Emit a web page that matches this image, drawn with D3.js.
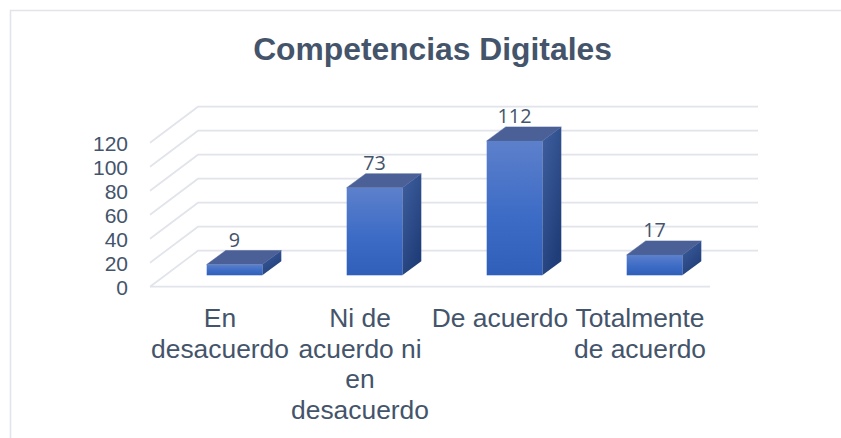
<!DOCTYPE html>
<html><head><meta charset="utf-8">
<script src="https://cdn.jsdelivr.net/npm/d3@7/dist/d3.min.js"></script>
<style>html,body{margin:0;padding:0;background:#fff}svg{display:block}</style>
</head><body><div id="chart"></div>
<script>
const titleText = "Competencias Digitales";
const categories = ["En desacuerdo","Ni de acuerdo ni en desacuerdo","De acuerdo","Totalmente de acuerdo"];
const categoryLines = [["En","desacuerdo"],["Ni de","acuerdo ni","en","desacuerdo"],["De acuerdo"],["Totalmente","de acuerdo"]];
const values = [9,73,112,17];
const yTicks = [0,20,40,60,80,100,120];

const W=841,H=438;
const svg=d3.select("#chart").append("svg").attr("width",W).attr("height",H);
const defs=svg.append("defs");
const grad=(id,stops,x2,y2)=>{const g=defs.append("linearGradient").attr("id",id).attr("x1",0).attr("y1",0).attr("x2",x2).attr("y2",y2);
  stops.forEach(([o,c])=>g.append("stop").attr("offset",o).attr("stop-color",c));};
grad("front",[[0,"#5d80cb"],[0.55,"#3d6cc6"],[1,"#2f5fb8"]],0,1);
grad("side",[[0,"#3f5f9f"],[1,"#1f3d78"]],0.6,1);
const gridColor="#e1e4ea", textColor="#44546a";

svg.append("path").attr("d","M10.5,438V10.5H841").attr("fill","none").attr("stroke",gridColor).attr("stroke-width",1.6);
svg.append("text").attr("x",432.5).attr("y",60).attr("text-anchor","middle")
  .attr("font-family","Liberation Sans").attr("font-weight",700).attr("font-size",31.8).attr("fill",textColor).text(titleText);

const x=d3.scaleBand().domain(categories).range([150,710]);
const y=d3.scaleLinear().domain([0,120]).range([286.7,142.7]);
const wallDx=48,wallDy=-36,barW=55.6,inDx=14.5,inDy=-11.4,depDx=19,depDy=-14;

// walls and floor
const grid=svg.append("g").attr("fill","none").attr("stroke",gridColor).attr("stroke-width",1.7);
grid.selectAll("path.g").data(yTicks).join("path").attr("class","g")
  .attr("d",t=>`M${x.range()[0]},${y(t)}L${x.range()[0]+wallDx},${y(t)+wallDy}H${x.range()[1]+wallDx}`);
grid.append("path").attr("d",`M${x.range()[0]},${y(0)}H${x.range()[1]}`);

// y axis
const yAxis=svg.append("g").attr("transform",`translate(${x.range()[0]},1)`)
  .call(d3.axisLeft(y).tickValues(yTicks).tickSize(0).tickPadding(22).tickFormat(d3.format("d")));
yAxis.select(".domain").remove();
yAxis.selectAll("text").attr("font-family","Liberation Sans").attr("font-size",21).attr("fill",textColor);

// bars
const bars=svg.append("g").selectAll("g").data(categories).join("g");
const bx=c=>x(c)+x.bandwidth()/2-barW/2+inDx;
const by=v=>y(v)+inDy;
const y0=y(0)+inDy;
bars.append("path").attr("fill","#4a6097").attr("stroke","#4a6097").attr("stroke-width",.5)
  .attr("d",(c,i)=>`M${bx(c)},${by(values[i])}l${depDx},${depDy}h${barW}l${-depDx},${-depDy}Z`);
bars.append("path").attr("fill","url(#side)")
  .attr("d",(c,i)=>`M${bx(c)+barW},${by(values[i])}l${depDx},${depDy}V${y0+depDy}L${bx(c)+barW},${y0}Z`);
bars.append("rect").attr("fill","url(#front)").attr("x",bx).attr("width",barW)
  .attr("y",(c,i)=>by(values[i])).attr("height",(c,i)=>y0-by(values[i]));
bars.append("text").attr("text-anchor","middle").attr("font-family","Open Sans").attr("font-size",19.8).attr("fill",textColor)
  .attr("x",c=>bx(c)+barW/2).attr("y",(c,i)=>by(values[i])+depDy-4).text((c,i)=>values[i]);

// category labels
svg.append("g").selectAll("text").data(categories).join("text")
  .attr("text-anchor","middle").attr("font-family","Liberation Sans").attr("font-size",26.4).attr("fill",textColor)
  .attr("transform",c=>`translate(${x(c)+x.bandwidth()/2},327)`)
  .each(function(c,i){d3.select(this).selectAll("tspan").data(categoryLines[i]).join("tspan")
    .attr("x",0).attr("y",(d,j)=>j*30.6).text(d=>d);});
</script></body></html>
